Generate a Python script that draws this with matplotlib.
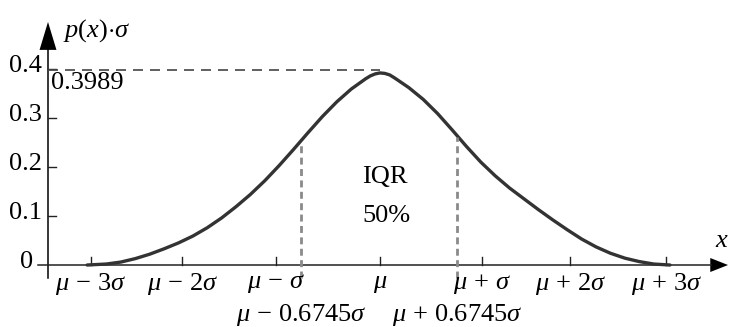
import matplotlib.pyplot as plt
import numpy as np

plt.rcParams['mathtext.fontset'] = 'custom'
plt.rcParams['mathtext.rm'] = 'Liberation Serif'
plt.rcParams['mathtext.it'] = 'Liberation Serif:italic'
plt.rcParams['font.family'] = 'Liberation Serif'

# данные (x в единицах сигмы, y = p(x)*sigma)
curve_x = [-3.05, -2.85, -2.70, -2.55, -2.40, -2.25, -2.10, -1.95, -1.80, -1.65,
           -1.50, -1.35, -1.20, -1.05, -0.90, -0.75, -0.60, -0.45, -0.30, -0.15,
           -0.10, -0.05, 0.00, 0.05, 0.10, 0.15, 0.30, 0.45, 0.60, 0.75,
           0.90, 1.05, 1.20, 1.35, 1.50, 1.65, 1.80, 1.95, 2.10, 2.25,
           2.40, 2.55, 2.70, 2.85, 3.02]
curve_y = [0.000, 0.002, 0.006, 0.013, 0.022, 0.033, 0.045, 0.059, 0.076, 0.096,
           0.119, 0.144, 0.172, 0.203, 0.236, 0.270, 0.303, 0.333, 0.359, 0.380,
           0.386, 0.390, 0.392, 0.391, 0.388, 0.382, 0.362, 0.338, 0.309, 0.276,
           0.242, 0.210, 0.182, 0.157, 0.135, 0.113, 0.092, 0.072, 0.053, 0.037,
           0.024, 0.014, 0.007, 0.002, 0.000]

x_ticks = [-3.01, -2.06, -1.08, 0.0, 1.06, 1.98, 2.98]
x_labels = [r'$\mu\,-\,3\sigma$', r'$\mu\,-\,2\sigma$', r'$\mu\,-\,\sigma$', r'$\mu$',
            r'$\mu\,+\,\sigma$', r'$\mu\,+\,2\sigma$', r'$\mu\,+\,3\sigma$']
iqr_x = [-0.82, 0.80]
iqr_top = [0.250, 0.262]
iqr_labels = [r'$\mu\,-\,0.6745\sigma$', r'$\mu\,+\,0.6745\sigma$']
y_ticks = [0.0, 0.1, 0.2, 0.3, 0.4]
y_labels = ['0', '0.1', '0.2', '0.3', '0.4']
peak = 0.3989

FS = 19

fig = plt.figure(figsize=(7.29, 3.27), dpi=100)
ax = fig.add_axes([0, 0, 1, 1])
ax.set_xlim(-3.958, 3.635)
ax.set_ylim(-0.1265, 0.5408)
ax.axis('off')

y_axis_x = -3.458
# оси со стрелками
ax.plot([y_axis_x, y_axis_x], [-0.027, 0.45], color='black', lw=1.1)
ax.fill([y_axis_x - 0.088, y_axis_x, y_axis_x + 0.088], [0.439, 0.496, 0.439], color='black', lw=0)
ax.plot([-3.5625, 3.45], [0, 0], color='#222222', lw=1.1)
ax.fill([3.44, 3.625, 3.44], [-0.0143, 0, 0.0143], color='black', lw=0)

# засечки
for t in x_ticks:
    ax.plot([t, t], [0, 0.016], color='#222222', lw=1.0)
for t in y_ticks[1:]:
    ax.plot([y_axis_x, y_axis_x + 0.083], [t, t], color='#222222', lw=1.0)

# подписи осей
for t, lab in zip(x_ticks, x_labels):
    ax.text(t, -0.038, lab, fontsize=FS, ha='center', va='center')
for t, lab in zip(y_ticks, y_labels):
    xr = y_axis_x - 0.06 if t > 0 else y_axis_x - 0.16
    ax.text(xr, t + 0.006, lab, fontsize=FS, ha='right', va='center')

# кривая
ax.plot(curve_x, curve_y, color='#333333', lw=2.4, solid_capstyle='round', solid_joinstyle='round')

# максимум
ax.plot([y_axis_x, 0.0], [peak, peak], color='#444444', lw=1.2, dashes=(6, 4.2))
ax.text(y_axis_x + 0.03, peak - 0.006, '0.3989', fontsize=FS, ha='left', va='top')

# межквартильный размах
for xi, top, lab in zip(iqr_x, iqr_top, iqr_labels):
    ax.plot([xi, xi], [-0.027, top], color='#8a8a8a', lw=2.0, dashes=(2.5, 1.6))
    ax.text(xi, -0.102, lab, fontsize=FS, ha='center', va='center')

ax.text(0.05, 0.180, 'IQR', fontsize=FS, ha='center', va='center')
ax.text(0.07, 0.100, '50%', fontsize=FS, ha='center', va='center')

ax.text(-3.30, 0.478, r'$p(x){\cdot}\sigma$', fontsize=FS, ha='left', va='center')
ax.text(3.56, 0.049, r'$x$', fontsize=FS, ha='center', va='center')

fig.savefig('out.png', dpi=100)
